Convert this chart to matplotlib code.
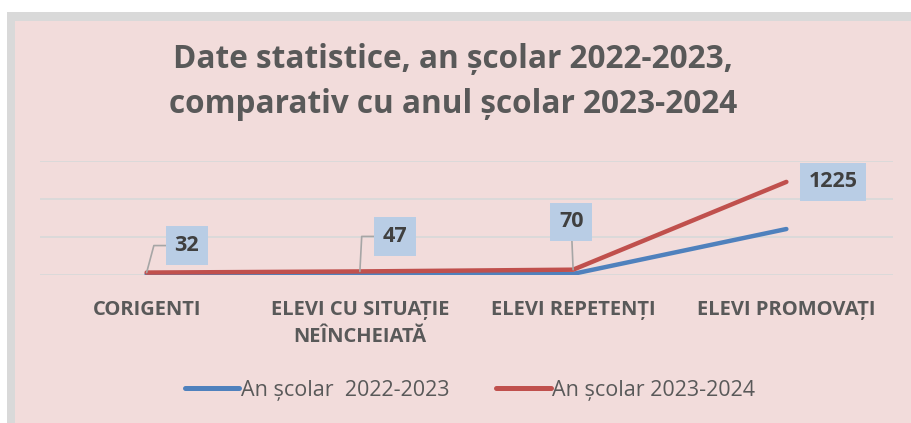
import matplotlib.pyplot as plt
from matplotlib.patches import Rectangle

# chart data
categories = ['CORIGENTI', 'ELEVI CU SITUAȚIE\nNEÎNCHEIATĂ', 'ELEVI REPETENȚI', 'ELEVI PROMOVAȚI']
an_2022_2023 = [10, 18, 15, 605]
an_2023_2024 = [32, 47, 70, 1225]
label_names = ['An școlar  2022-2023', 'An școlar 2023-2024']

font = 'Open Sans'
grey_text = '#595959'

fig = plt.figure(figsize=(9.12, 4.23), dpi=100)
fig.patch.set_facecolor('white')

# outer frame: grey border and pink chart area
fig.patches.append(Rectangle((7 / 912, 0), 1, (423 - 12) / 423, transform=fig.transFigure,
                             facecolor='#d9d9d9', edgecolor='none', zorder=-10))
fig.patches.append(Rectangle((15 / 912, 0), 1, (423 - 21) / 423, transform=fig.transFigure,
                             facecolor='#f2dcdb', edgecolor='none', zorder=-9))

ax = fig.add_axes([40 / 912, (423 - 275) / 423, 853 / 912, (275 - 161) / 423])
ax.set_facecolor('none')
ax.set_zorder(1)

x = list(range(len(categories)))
ax.plot(x, an_2022_2023, color='#4f81bd', lw=3.2, solid_capstyle='round', label=label_names[0], zorder=3)
ax.plot(x, an_2023_2024, color='#c0504d', lw=3.2, solid_capstyle='round', label=label_names[1], zorder=4)

ax.set_xlim(-0.5, 3.5)
ax.set_ylim(0, 1500)
ax.set_yticks([0, 500, 1000, 1500])
ax.set_yticklabels([])
ax.tick_params(axis='y', length=0)
ax.grid(axis='y', color='#d9d9d9', lw=1.3)
ax.set_axisbelow(True)
for s in ax.spines.values():
    s.set_visible(False)

ax.set_xticks(x)
ax.set_xticklabels(categories, fontfamily=font, fontweight='bold', fontsize=14.5,
                   color=grey_text, linespacing=1.45)
ax.tick_params(axis='x', length=0, pad=18)

# data labels for the 2023-2024 series (offsets in pixels -> points)
offsets = [(40, 27), (35, 35), (-2, 48), (47, 0)]
angles = [75, 87, None, None]
for i, (val, off, ang) in enumerate(zip(an_2023_2024, offsets, angles)):
    if i == 3:
        arrow = None
    elif ang is None:
        arrow = dict(arrowstyle='-', color='#a6a6a6', lw=1.2, shrinkA=0, shrinkB=0)
    else:
        arrow = dict(arrowstyle='-', color='#a6a6a6', lw=1.2, shrinkA=0, shrinkB=0,
                     connectionstyle=f'angle,angleA=0,angleB={ang},rad=0')
    ax.annotate(str(val), xy=(i, val), xytext=(off[0] * 0.72, off[1] * 0.72),
                textcoords='offset points', ha='center', va='center',
                fontfamily=font, fontweight='bold', fontsize=15.5, color='#404040',
                bbox=dict(boxstyle='square,pad=0.4', facecolor='#b9cde5', edgecolor='none'),
                arrowprops=arrow, zorder=5, annotation_clip=False)

fig.text(453 / 912, 1 - 82 / 423, 'Date statistice, an școlar 2022-2023,\ncomparativ cu anul școlar 2023-2024',
         ha='center', va='center', fontfamily=font, fontweight='bold', fontsize=22.7,
         color=grey_text, linespacing=1.5)

leg = fig.legend(loc='center', bbox_to_anchor=(470 / 912, 1 - 390 / 423), ncol=2, frameon=False,
                 prop={'family': font, 'size': 15.5}, handlelength=2.55, handletextpad=0.05,
                 columnspacing=2.2)
for t in leg.get_texts():
    t.set_color(grey_text)
for h in leg.get_lines():
    h.set_linewidth(3.6)

fig.savefig('out.png', dpi=100)
